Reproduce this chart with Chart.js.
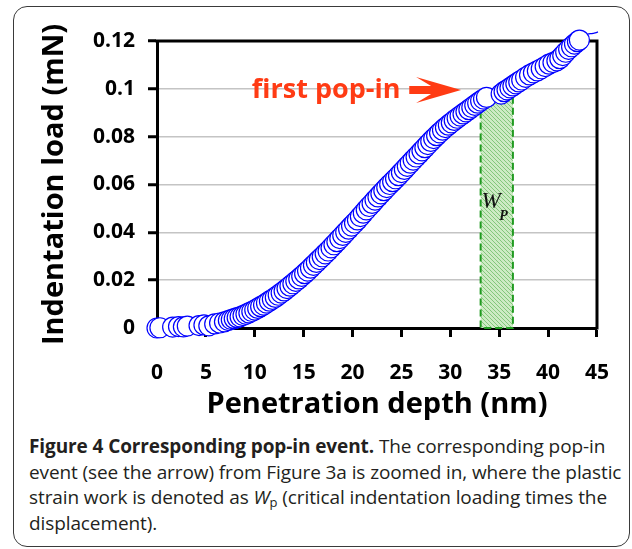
<!DOCTYPE html>
<html>
<head>
<meta charset="utf-8">
<script src="https://cdn.jsdelivr.net/npm/chart.js@4.4.1/dist/chart.umd.min.js"></script>
<style>
  html, body { margin: 0; padding: 0; background: #fff; }
  body { width: 632px; height: 549px; position: relative; overflow: hidden; font-family: 'Open Sans', sans-serif; }
  #frame { position: absolute; left: 13px; top: 6px; width: 617px; height: 541px; box-sizing: border-box; border: 1.5px solid #3a3a3a; border-radius: 14px; }
  #wrap { position: absolute; left: 0; top: 0; width: 632px; height: 430px; }
  #caption { position: absolute; left: 29px; top: 434px; font-size: 19px; line-height: 25.5px; color: #231f20; white-space: nowrap; letter-spacing: -0.1px; }
  #caption sub { font-size: 13px; line-height: 0; vertical-align: -3px; }
</style>
</head>
<body>
<div id="frame"></div>
<div id="wrap"><canvas id="chart" width="632" height="430"></canvas></div>
<div id="caption"><b>Figure 4 Corresponding pop-in event.</b> The corresponding pop-in<br>event (see the arrow) from Figure 3a is zoomed in, where the plastic<br>strain work is denoted as <i>W</i><sub>p</sub> (critical indentation loading times the<br>displacement).</div>
<script>
// penetration depth (nm) and indentation load (mN)
const depth = [
  0, 0.3, 1.6, 2.2, 2.7, 3.1, 4.3, 4.8, 5.3, 5.9, 6.4, 6.9, 7.3, 7.6, 7.9, 8.2,
  8.5, 8.8, 9.1, 9.4, 9.7, 10.0, 10.3, 10.6, 10.9, 11.2, 11.5, 11.8, 12.1, 12.4,
  12.7, 13.0, 13.3, 13.6, 13.9, 14.2, 14.5, 14.8, 15.1, 15.4, 15.7, 16.0, 16.3,
  16.6, 16.9, 17.2, 17.5, 17.8, 18.1, 18.4, 18.7, 19.0, 19.3, 19.6, 19.9, 20.2,
  20.5, 20.8, 21.1, 21.4, 21.7, 22.0, 22.3, 22.6, 22.9, 23.2, 23.5, 23.8, 24.1,
  24.4, 24.7, 25.0, 25.3, 25.6, 25.9, 26.2, 26.5, 26.8, 27.1, 27.4, 27.7, 28.0,
  28.3, 28.6, 28.9, 29.2, 29.5, 29.8, 30.1, 30.4, 30.7, 31.0, 31.3, 31.6, 31.9,
  32.2, 32.5, 32.8, 33.1, 33.4, 33.7,
  35.2, 35.5, 35.8, 36.1, 36.4, 36.7, 37.0, 37.3, 37.7, 38.1, 38.5, 38.9, 39.3,
  39.7, 40.1, 40.5, 40.9, 41.2, 41.5, 41.8, 42.1, 42.4, 42.7, 43.0, 43.2
];
const load = [
  0.0000, 0.0001, 0.0004, 0.0006, 0.0005, 0.0008, 0.0010, 0.0013, 0.0009, 0.0017,
  0.0021, 0.0026, 0.0031, 0.0035, 0.0039, 0.0043, 0.0047, 0.0052, 0.0057, 0.0063,
  0.0069, 0.0075, 0.0082, 0.0089, 0.0096, 0.0104, 0.0112, 0.0120, 0.0128, 0.0137,
  0.0146, 0.0155, 0.0165, 0.0175, 0.0185, 0.0195, 0.0205, 0.0216, 0.0227, 0.0238,
  0.0250, 0.0262, 0.0274, 0.0286, 0.0298, 0.0310, 0.0322, 0.0335, 0.0348, 0.0361,
  0.0374, 0.0387, 0.0400, 0.0413, 0.0426, 0.0439, 0.0452, 0.0466, 0.0480, 0.0494,
  0.0508, 0.0521, 0.0535, 0.0548, 0.0561, 0.0574, 0.0587, 0.0600, 0.0612, 0.0624,
  0.0637, 0.0650, 0.0663, 0.0676, 0.0689, 0.0702, 0.0715, 0.0728, 0.0741, 0.0754,
  0.0767, 0.0780, 0.0792, 0.0804, 0.0816, 0.0827, 0.0838, 0.0848, 0.0858, 0.0868,
  0.0877, 0.0886, 0.0895, 0.0904, 0.0913, 0.0922, 0.0931, 0.0940, 0.0949, 0.0957,
  0.0964,
  0.0978, 0.0988, 0.0996, 0.1004, 0.1012, 0.1021, 0.1029, 0.1037, 0.1048, 0.1058,
  0.1067, 0.1075, 0.1084, 0.1093, 0.1103, 0.1110, 0.1117, 0.1126, 0.1139, 0.1153,
  0.1165, 0.1176, 0.1187, 0.1197, 0.1204
];
// thin trace running past the last marker
const tailDepth = [43.4, 44.0, 44.6, 45.1, 45.7];
const tailLoad = [0.1215, 0.1228, 0.1232, 0.1238, 0.1254];

const yTickLabels = ['0', '0.02', '0.04', '0.06', '0.08', '0.1', '0.12'];
const xTickLabels = ['0', '5', '10', '15', '20', '25', '30', '35', '40', '45'];

// plastic strain work box (W_p)
const popInDepth = [33.1, 36.4];
const popInLoad = 0.097;

const RED = '#ff3b14';
const BLUE = '#0000ff';

const makeHatch = (ctx) => {
  const c = document.createElement('canvas');
  c.width = 4; c.height = 4;
  const g = c.getContext('2d');
  g.fillStyle = '#cdebc4';
  g.fillRect(0, 0, 4, 4);
  g.strokeStyle = '#84c77c';
  g.lineWidth = 1;
  g.beginPath();
  g.moveTo(-1, -1); g.lineTo(5, 5);
  g.moveTo(-1, 3); g.lineTo(1, 5);
  g.moveTo(3, -1); g.lineTo(5, 1);
  g.stroke();
  return ctx.createPattern(c, 'repeat');
};

const annotationPlugin = {
  id: 'annotations',
  beforeDatasetsDraw(chart) {
    const { ctx, chartArea: a, scales: { x, y } } = chart;
    ctx.save();

    // top and right sides of the plot frame
    ctx.strokeStyle = '#000';
    ctx.lineWidth = 3;
    ctx.beginPath();
    ctx.moveTo(a.left - 1.5, a.top);
    ctx.lineTo(a.right, a.top);
    ctx.lineTo(a.right, a.bottom + 1.5);
    ctx.stroke();

    // hatched W_p rectangle
    const x0 = x.getPixelForValue(popInDepth[0]);
    const x1 = x.getPixelForValue(popInDepth[1]);
    const yT = y.getPixelForValue(popInLoad);
    const yB = y.getPixelForValue(0);
    ctx.fillStyle = makeHatch(ctx);
    ctx.fillRect(x0, yT, x1 - x0, yB - yT);
    ctx.setLineDash([7, 4]);
    ctx.strokeStyle = '#1f9a1f';
    ctx.lineWidth = 2;
    ctx.strokeRect(x0, yT, x1 - x0, yB - yT);
    ctx.setLineDash([]);

    // W_p label
    ctx.fillStyle = '#111';
    ctx.textBaseline = 'alphabetic';
    ctx.textAlign = 'left';
    ctx.font = 'italic 23px "Liberation Serif"';
    ctx.fillText('W', x.getPixelForValue(33.2), y.getPixelForValue(0.0502));
    ctx.font = 'italic bold 14px "Liberation Serif"';
    ctx.fillText('P', x.getPixelForValue(35.0), y.getPixelForValue(0.0451));

    // "first pop-in" label and arrow
    ctx.fillStyle = RED;
    ctx.font = 'bold 27px "Open Sans"';
    ctx.textBaseline = 'middle';
    ctx.fillText('first pop-in', x.getPixelForValue(9.7), y.getPixelForValue(0.0995));

    const ax0 = x.getPixelForValue(25.8);
    const ax1 = x.getPixelForValue(31.1);
    const ay = y.getPixelForValue(0.0995);
    ctx.beginPath();
    ctx.moveTo(ax0, ay - 4);
    ctx.lineTo(ax1 - 30, ay - 4);
    ctx.lineTo(ax1 - 45, ay - 13);
    ctx.lineTo(ax1, ay);
    ctx.lineTo(ax1 - 45, ay + 13);
    ctx.lineTo(ax1 - 30, ay + 4);
    ctx.lineTo(ax0, ay + 4);
    ctx.closePath();
    ctx.fill();

    ctx.restore();
  }
};

const tickFont = { family: 'Open Sans', size: 21, weight: 'bold' };
const titleFont = { family: 'Open Sans', size: 29, weight: 'bold' };
const isMajorY = (v) => Math.round(v * 100) % 2 === 0;

const ctx = document.getElementById('chart');
const chart = new Chart(ctx, {
  type: 'scatter',
  data: {
    datasets: [
      {
        data: depth.map((d, i) => ({ x: d, y: load[i] })),
        pointRadius: 10,
        pointHoverRadius: 10,
        pointBorderColor: BLUE,
        pointBackgroundColor: '#fff',
        pointBorderWidth: 1.2,
        showLine: false,
        clip: false
      },
      {
        data: tailDepth.map((d, i) => ({ x: d, y: tailLoad[i] })),
        showLine: true,
        pointRadius: 0,
        borderColor: BLUE,
        borderWidth: 1.2,
        tension: 0.4,
        clip: false
      }
    ]
  },
  options: {
    responsive: false,
    animation: false,
    events: [],
    layout: { padding: { left: 20, top: 41, right: 34, bottom: 0 } },
    plugins: { legend: { display: false }, tooltip: { enabled: false } },
    scales: {
      x: {
        type: 'linear',
        min: 0,
        max: 45,
        afterFit: (s) => { s.height = 102; },
        ticks: {
          stepSize: 5,
          padding: 23,
          color: '#000',
          font: tickFont,
          callback: (v) => xTickLabels[Math.round(v / 5)]
        },
        grid: { drawOnChartArea: false, tickLength: 9, tickWidth: 3, tickColor: '#000' },
        border: { color: '#000', width: 3 },
        title: {
          display: true,
          text: 'Penetration depth (nm)',
          color: '#000',
          font: titleFont,
          padding: { top: 0, bottom: 8 }
        }
      },
      y: {
        min: 0,
        max: 0.12,
        afterFit: (s) => { s.width = 137; },
        ticks: {
          stepSize: 0.01,
          padding: 13,
          color: '#000',
          font: tickFont,
          callback: (v) => isMajorY(v) ? yTickLabels[Math.round(v * 50)] : ''
        },
        grid: {
          color: (c) => isMajorY(c.tick.value) ? '#c4c4c4' : 'rgba(0,0,0,0)',
          lineWidth: 1.5,
          tickLength: 9,
          tickWidth: 3,
          tickColor: '#000'
        },
        border: { color: '#000', width: 3 },
        title: {
          display: true,
          text: 'Indentation load (mN)',
          color: '#000',
          font: titleFont,
          padding: { top: 17, bottom: 0 }
        }
      }
    }
  },
  plugins: [annotationPlugin]
});
</script>
</body>
</html>
